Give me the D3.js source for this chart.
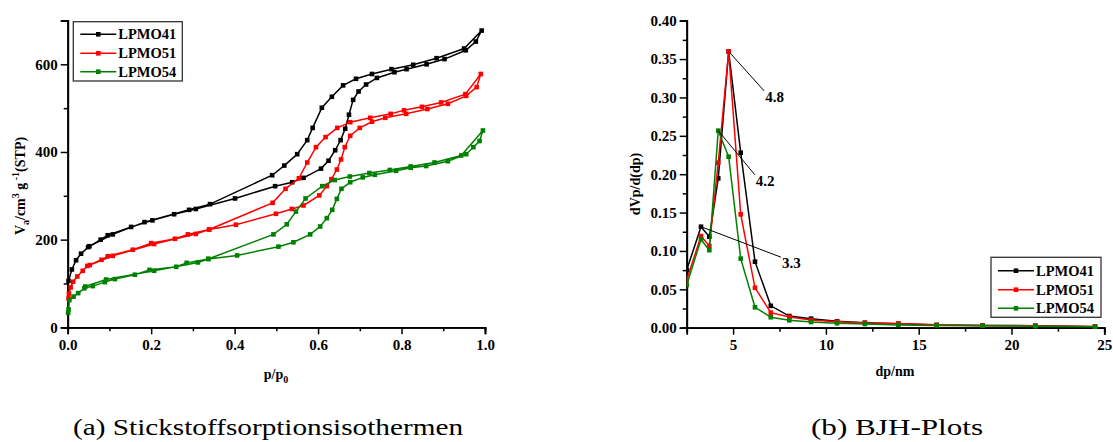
<!DOCTYPE html>
<html><head><meta charset="utf-8">
<script src="https://cdn.jsdelivr.net/npm/d3@7"></script>
<style>body{margin:0;background:#fff}svg{display:block}text{font-family:"Liberation Serif","Times New Roman",serif}</style>
</head><body>
<svg id="c" width="1113" height="442"></svg>
<script>
// ---------- data: nitrogen sorption isotherms (p/p0, V) ----------
const seriesNames = ["LPMO41", "LPMO51", "LPMO54"];
const seriesColors = ["#000000", "#ff0000", "#008000"];

const lpmo41Ads = [[0.002,106],[0.01,132],[0.02,153],[0.032,168],[0.049,183],[0.079,200],[0.096,210],[0.152,229],[0.203,244],[0.255,258],[0.307,270],[0.401,294],[0.497,322],[0.538,331],[0.565,341],[0.607,362],[0.625,380],[0.641,404],[0.654,427],[0.665,453],[0.674,485],[0.684,519],[0.697,538],[0.715,554],[0.741,569],[0.783,582],[0.812,589],[0.860,600],[0.903,612],[0.954,632],[0.978,652],[0.992,677]];
const lpmo41Des = [[0.950,636],[0.884,614],[0.828,599],[0.776,589],[0.729,578],[0.691,567],[0.660,552],[0.633,526],[0.609,501],[0.587,455],[0.574,427],[0.550,395],[0.519,369],[0.490,347],[0.341,281],[0.291,268],[0.184,240],[0.108,212],[0.052,185]];

const lpmo51Ads = [[0.002,66],[0.003,77],[0.007,91],[0.013,104],[0.023,116],[0.036,129],[0.047,140],[0.081,154],[0.096,162],[0.156,177],[0.200,192],[0.257,202],[0.288,212],[0.339,223],[0.403,234],[0.499,259],[0.537,270],[0.565,278],[0.603,301],[0.621,322],[0.632,338],[0.645,360],[0.655,383],[0.664,411],[0.677,437],[0.700,455],[0.729,469],[0.761,478],[0.811,487],[0.862,498],[0.911,510],[0.955,528],[0.980,548],[0.990,578]];
const lpmo51Des = [[0.953,532],[0.895,513],[0.849,503],[0.806,495],[0.774,487],[0.725,478],[0.677,468],[0.646,455],[0.618,434],[0.595,411],[0.574,376],[0.554,340],[0.522,316],[0.491,284],[0.339,223],[0.307,213],[0.207,190],[0.108,163],[0.053,142]];

const lpmo54Ads = [[0.001,33],[0.002,41],[0.004,62],[0.014,70],[0.025,78],[0.040,89],[0.060,94],[0.089,103],[0.113,110],[0.161,120],[0.196,131],[0.260,138],[0.285,147],[0.337,156],[0.406,164],[0.505,184],[0.541,194],[0.581,212],[0.605,230],[0.621,249],[0.634,268],[0.645,293],[0.656,316],[0.677,331],[0.707,342],[0.736,348],[0.787,357],[0.822,364],[0.859,368],[0.911,379],[0.955,395],[0.972,411],[0.987,425],[0.995,449]];
const lpmo54Des = [[0.943,392],[0.879,376],[0.822,367],[0.772,359],[0.723,352],[0.676,344],[0.640,336],[0.610,322],[0.570,294],[0.547,264],[0.525,235],[0.493,212],[0.337,156],[0.312,148],[0.207,129],[0.092,109],[0.042,93]];

const isoXTicks = [0, 0.2, 0.4, 0.6, 0.8, 1.0];
const isoYTicks = [0, 200, 400, 600];

// ---------- data: BJH pore size distribution (dp/nm, dVp/d(dp)) ----------
const bjhDp = [2.5, 3.27, 3.72, 4.2, 4.76, 5.41, 6.18, 7.03, 8.03, 9.2, 10.6, 12.1, 13.9, 15.97, 18.44, 21.28, 24.5];
const bjh41 = [0.075, 0.1316, 0.1186, 0.1946, 0.360, 0.228, 0.086, 0.0285, 0.0152, 0.0118, 0.0083, 0.0065, 0.0052, 0.0035, 0.0030, 0.0026, 0.0013];
const bjh51 = [0.062, 0.1195, 0.1065, 0.215, 0.360, 0.1477, 0.052, 0.0196, 0.014, 0.010, 0.0078, 0.0062, 0.0055, 0.0038, 0.0030, 0.0025, 0.0015];
const bjh54 = [0.0556, 0.115, 0.101, 0.2567, 0.2228, 0.090, 0.0266, 0.0136, 0.0096, 0.0074, 0.0057, 0.0048, 0.0036, 0.0030, 0.0025, 0.0020, 0.0012];
const bjhXTicks = [5, 10, 15, 20, 25];
const bjhYTicks = [0, 0.05, 0.10, 0.15, 0.20, 0.25, 0.30, 0.35, 0.40];
const peakLabels = [{s: 0, i: 4, t: "4.8"}, {s: 2, i: 3, t: "4.2"}, {s: 0, i: 1, t: "3.3"}];

const captions = ["(a) Stickstoffsorptionsisothermen", "(b) BJH-Plots"];

// ---------- drawing ----------
const svg = d3.select("#c");
svg.append("rect").attr("width", 1113).attr("height", 442).attr("fill", "#fff");
const defs = svg.append("defs");

function styleAxis(g) {
  g.select(".domain").attr("stroke", "#000").attr("stroke-width", 1.8);
  g.selectAll(".tick line").attr("stroke", "#000").attr("stroke-width", 1.5);
  g.selectAll("text").attr("font-size", 15).attr("font-weight", "bold").attr("fill", "#000")
    .attr("font-family", "Liberation Serif, serif");
}

function drawSeries(g, pts, color, x, y, clipId) {
  const gg = g.append("g").attr("clip-path", clipId ? `url(#${clipId})` : null);
  gg.append("path").datum(pts)
    .attr("d", d3.line().x(d => x(d[0])).y(d => y(d[1])))
    .attr("fill", "none").attr("stroke", color).attr("stroke-width", 1.5);
  const s = 4.6;
  gg.selectAll("rect.m").data(pts).enter().append("rect")
    .attr("x", d => x(d[0]) - s / 2).attr("y", d => y(d[1]) - s / 2)
    .attr("width", s).attr("height", s).attr("fill", color);
}

function legend(g, x0, y0, w, h, rows) {
  g.append("rect").attr("x", x0).attr("y", y0).attr("width", w).attr("height", h)
    .attr("fill", "#fff").attr("stroke", "#333").attr("stroke-width", 1.3);
  seriesNames.forEach((n, i) => {
    const yy = rows[i];
    g.append("line").attr("x1", x0 + 7).attr("x2", x0 + 43).attr("y1", yy).attr("y2", yy)
      .attr("stroke", seriesColors[i]).attr("stroke-width", 1.5);
    g.append("rect").attr("x", x0 + 25 - 2.3).attr("y", yy - 2.3).attr("width", 4.6).attr("height", 4.6)
      .attr("fill", seriesColors[i]);
    g.append("text").attr("x", x0 + 45).attr("y", yy + 5).attr("font-size", 14.5)
      .attr("font-weight", "bold").text(n);
  });
}

// ===== left chart =====
{
  const x = d3.scaleLinear([0, 1], [67.7, 485]);
  const y = d3.scaleLinear([0, 700], [327.3, 20.5]);
  const g = svg.append("g");
  defs.append("clipPath").attr("id", "clipL").append("rect")
    .attr("x", 60).attr("y", 10).attr("width", 440).attr("height", 325);

  const gxm = g.append("g").attr("transform", `translate(0,${y(0)})`)
    .call(d3.axisBottom(x).tickValues([0.1, 0.3, 0.5, 0.7, 0.9]).tickSize(4).tickFormat(""));
  styleAxis(gxm);
  const gym = g.append("g").attr("transform", `translate(${x(0)},0)`)
    .call(d3.axisLeft(y).tickValues([100, 300, 500, 700]).tickSize(4).tickFormat(""));
  styleAxis(gym);
  const gx = g.append("g").attr("transform", `translate(0,${y(0)})`)
    .call(d3.axisBottom(x).tickValues(isoXTicks).tickSize(7).tickPadding(5).tickFormat(d3.format(".1f")));
  styleAxis(gx);
  const gy = g.append("g").attr("transform", `translate(${x(0)},0)`)
    .call(d3.axisLeft(y).tickValues(isoYTicks).tickSize(7).tickPadding(3).tickFormat(d3.format("d")));
  styleAxis(gy);

  const sets = [lpmo41Ads.concat(lpmo41Des), lpmo51Ads.concat(lpmo51Des), lpmo54Ads.concat(lpmo54Des)];
  sets.forEach((s, i) => drawSeries(g, s, seriesColors[i], x, y, "clipL"));

  const xt = g.append("text").attr("x", 276).attr("y", 379).attr("text-anchor", "middle")
    .attr("font-size", 14).attr("font-weight", "bold");
  xt.append("tspan").text("p/p");
  xt.append("tspan").attr("font-size", 10).attr("dy", 4).text("0");

  const yt = g.append("text").attr("transform", "translate(25,186) rotate(-90)")
    .attr("text-anchor", "middle").attr("font-size", 14).attr("font-weight", "bold");
  yt.append("tspan").text("V");
  yt.append("tspan").attr("font-size", 10).attr("dy", 4).text("a");
  yt.append("tspan").attr("dy", -4).text("/cm");
  yt.append("tspan").attr("font-size", 10).attr("dy", -6).text("3");
  yt.append("tspan").attr("dy", 6).text(" g");
  yt.append("tspan").attr("font-size", 10).attr("dy", -6).text(" -1");
  yt.append("tspan").attr("dy", 6).text("(STP)");

  legend(g, 73.3, 21.7, 109, 59.3, [34.3, 53.3, 71.7]);
}

// ===== right chart =====
{
  const x = d3.scaleLinear([2.5, 25], [686.7, 1104.3]);
  const y = d3.scaleLinear([0, 0.4], [327.7, 20.7]);
  const g = svg.append("g");
  defs.append("clipPath").attr("id", "clipR").append("rect")
    .attr("x", x(2.5)).attr("y", 10).attr("width", 430).attr("height", 325);

  const gxm = g.append("g").attr("transform", `translate(0,${y(0)})`)
    .call(d3.axisBottom(x).tickValues([2.5, 7.5, 12.5, 17.5, 22.5]).tickSize(4).tickFormat(""));
  styleAxis(gxm);
  const gym = g.append("g").attr("transform", `translate(${x(2.5)},0)`)
    .call(d3.axisLeft(y).tickValues(d3.range(0.025, 0.4, 0.05)).tickSize(4).tickFormat(""));
  styleAxis(gym);
  const gx = g.append("g").attr("transform", `translate(0,${y(0)})`)
    .call(d3.axisBottom(x).tickValues(bjhXTicks).tickSize(7).tickPadding(5).tickFormat(d3.format("d")));
  styleAxis(gx);
  const gy = g.append("g").attr("transform", `translate(${x(2.5)},0)`)
    .call(d3.axisLeft(y).tickValues(bjhYTicks).tickSize(7).tickPadding(3).tickFormat(d3.format(".2f")));
  styleAxis(gy);

  const vals = [bjh41, bjh51, bjh54];
  vals.forEach((v, i) => drawSeries(g, bjhDp.map((d, k) => [d, v[k]]), seriesColors[i], x, y, "clipR"));

  const offs = [[35.5, 39.5], [36.5, 44], [80, 30.5]];
  peakLabels.forEach((p, k) => {
    const px = x(bjhDp[p.i]), py = y(vals[p.s][p.i]);
    const ex = px + offs[k][0], ey = py + offs[k][1];
    g.append("line").attr("x1", px).attr("y1", py).attr("x2", ex).attr("y2", ey)
      .attr("stroke", "#000").attr("stroke-width", 1);
    g.append("text").attr("x", ex + 1).attr("y", ey + 11).attr("font-size", 15)
      .attr("font-weight", "bold").text(p.t);
  });

  g.append("text").attr("x", 895).attr("y", 376).attr("text-anchor", "middle")
    .attr("font-size", 14).attr("font-weight", "bold").text("dp/nm");
  g.append("text").attr("transform", "translate(640,184) rotate(-90)").attr("text-anchor", "middle")
    .attr("font-size", 14).attr("font-weight", "bold").text("dVp/d(dp)");

  legend(g, 991, 257.3, 110, 60, [270.7, 289.7, 308.3]);
}

// captions
svg.append("text").attr("x", 268).attr("y", 435).attr("text-anchor", "middle")
  .attr("font-size", 23).attr("textLength", 390).attr("lengthAdjust", "spacingAndGlyphs").text(captions[0]);
svg.append("text").attr("x", 897).attr("y", 435).attr("text-anchor", "middle")
  .attr("font-size", 23).attr("textLength", 172).attr("lengthAdjust", "spacingAndGlyphs").text(captions[1]);
</script>
</body></html>
